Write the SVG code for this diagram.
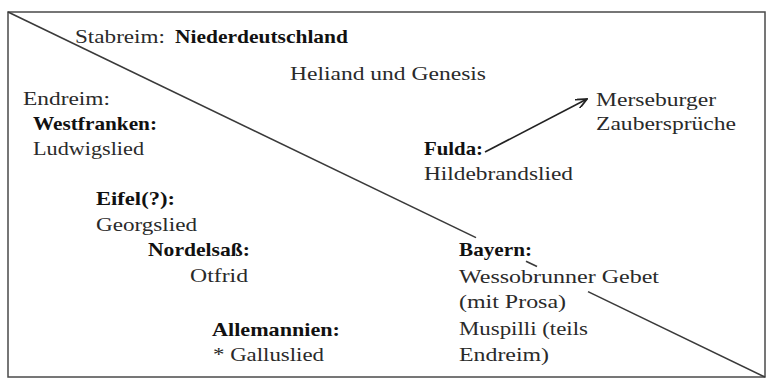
<svg xmlns="http://www.w3.org/2000/svg" width="767" height="379" viewBox="0 0 767 379">
<defs>
<style>
text{font-family:"Liberation Serif","Times New Roman",Tinos,serif;font-size:19px;fill:#2a2a2a}
.b{font-weight:bold;fill:#111}
.frame{fill:none;stroke:#4a4a4a;stroke-width:1.5}
.diag{stroke:#3a3a3a;stroke-width:1.6;fill:none}
.arr{stroke:#222;stroke-width:1.6;fill:none}
</style>
<marker id="ah" viewBox="0 0 12 10" refX="11" refY="5" markerWidth="12" markerHeight="10" markerUnits="userSpaceOnUse" orient="auto">
<path d="M0,0 L11,5 L0,10" fill="none" stroke="#222" stroke-width="1.8"/>
</marker>
</defs>
<rect id="background" x="0" y="0" width="767" height="379" fill="#fff"/>
<rect id="frame" class="frame" x="8" y="12" width="757" height="365"/>
<g id="connectors">
<path class="diag" d="M8,12 L476,237.6"/>
<path class="diag" d="M526,261.2 L537,266.5"/>
<path class="diag" d="M588,291.6 L765,377"/>
<path class="arr" d="M485,152 L587,99" marker-end="url(#ah)"/>
</g>
<g id="stabreim">
<text x="75" y="43" textLength="90" lengthAdjust="spacingAndGlyphs">Stabreim:</text>
<text class="b" x="175" y="43" textLength="173" lengthAdjust="spacingAndGlyphs">Niederdeutschland</text>
</g>
<g id="heliand">
<text x="290" y="80" textLength="196" lengthAdjust="spacingAndGlyphs">Heliand und Genesis</text>
</g>
<g id="endreim">
<text x="23" y="105" textLength="87" lengthAdjust="spacingAndGlyphs">Endreim:</text>
</g>
<g id="westfranken">
<text class="b" x="33" y="130" textLength="124" lengthAdjust="spacingAndGlyphs">Westfranken:</text>
<text x="33" y="155" textLength="111" lengthAdjust="spacingAndGlyphs">Ludwigslied</text>
</g>
<g id="eifel">
<text class="b" x="96" y="205" textLength="79" lengthAdjust="spacingAndGlyphs">Eifel(?):</text>
<text x="96" y="231" textLength="101" lengthAdjust="spacingAndGlyphs">Georgslied</text>
</g>
<g id="nordelsass">
<text class="b" x="148" y="256" textLength="102" lengthAdjust="spacingAndGlyphs">Nordelsaß:</text>
<text x="190" y="282" textLength="58" lengthAdjust="spacingAndGlyphs">Otfrid</text>
</g>
<g id="allemannien">
<text class="b" x="212" y="336" textLength="128" lengthAdjust="spacingAndGlyphs">Allemannien:</text>
<text x="213" y="361" textLength="111" lengthAdjust="spacingAndGlyphs">* Galluslied</text>
</g>
<g id="merseburger">
<text x="596" y="106" textLength="120" lengthAdjust="spacingAndGlyphs">Merseburger</text>
<text x="596" y="130" textLength="140" lengthAdjust="spacingAndGlyphs">Zaubersprüche</text>
</g>
<g id="fulda">
<text class="b" x="424" y="155" textLength="59" lengthAdjust="spacingAndGlyphs">Fulda:</text>
<text x="424" y="180" textLength="149" lengthAdjust="spacingAndGlyphs">Hildebrandslied</text>
</g>
<g id="bayern">
<text class="b" x="459" y="256" textLength="73" lengthAdjust="spacingAndGlyphs">Bayern:</text>
<text x="459" y="283" textLength="200" lengthAdjust="spacingAndGlyphs">Wessobrunner Gebet</text>
<text x="459" y="308" textLength="107" lengthAdjust="spacingAndGlyphs">(mit Prosa)</text>
<text x="459" y="335" textLength="129" lengthAdjust="spacingAndGlyphs">Muspilli (teils</text>
<text x="459" y="361" textLength="90" lengthAdjust="spacingAndGlyphs">Endreim)</text>
</g>
</svg>
